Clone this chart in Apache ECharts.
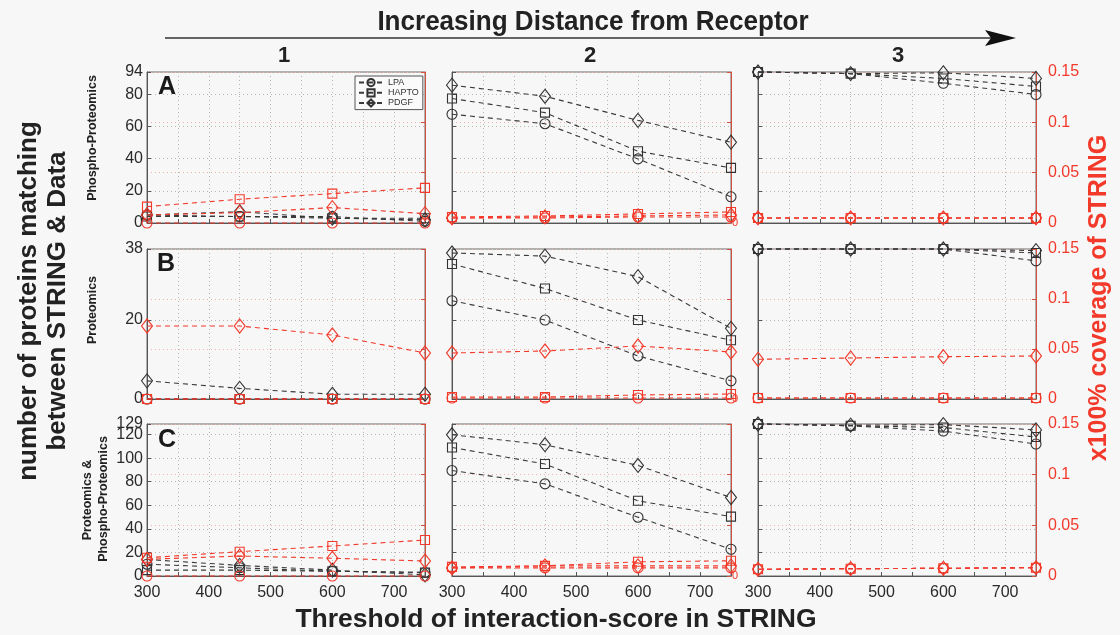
<!DOCTYPE html>
<html><head><meta charset="utf-8">
<script src="https://cdn.jsdelivr.net/npm/echarts@6/dist/echarts.min.js"></script>
<style>html,body{margin:0;padding:0;background:#f7f7f7;}#c{width:1120px;height:635px;}</style>
</head><body><div id="c"></div>
<script>
// ---------- data ----------
const thresholds = [300, 450, 600, 750];
const seriesNames = ['LPA', 'HAPTO', 'PDGF'];
const leftMax = [94, 38, 129];          // rows A, B, C
const leftTicksA = [0, 20, 40, 60, 80, 94];
const leftTicksB = [0, 20, 38];
const leftTicksC = [0, 20, 40, 60, 80, 100, 120, 129];
const xTickLabels = [300, 400, 500, 600, 700];
const rightTickLabels = [0, 0.05, 0.1, 0.15];

// number of proteins (left axis); order LPA, HAPTO, PDGF
const countA1 = [[5, 4, 4, 1], [4, 4, 3, 3], [5, 7, 3, 2]];
const countA2 = [[67.7, 61.8, 39.9, 16.3], [77.5, 68.7, 44.7, 34.3], [85.8, 78.9, 63.9, 50.3]];
const countA3 = [[94, 93, 87, 80], [94, 93, 90, 85], [94, 93, 93.5, 90]];
const countB1 = [[0, 0, 0, 0], [0, 0, 0, 0], [4.6, 2.7, 1.2, 1.2]];
const countB2 = [[24.9, 20, 10.9, 4.6], [34.2, 28, 20, 14.9], [37, 36.2, 31, 17.9]];
const countB3 = [[38, 38, 38, 35], [38, 38, 38, 37], [38, 38, 38, 37.6]];
const countC1 = [[10, 7, 4, 3], [5, 5, 4, 3], [14, 9, 5, 1]];
const countC2 = [[89.5, 78.2, 49.9, 22.7], [109.1, 95, 63.8, 50.4], [119.9, 111.4, 93.8, 66.6]];
const countC3 = [[129, 127.5, 123, 112], [129, 127.5, 126, 118], [129, 128, 128.5, 124]];

// coverage of STRING (right axis); order LPA, HAPTO, PDGF
const covA1 = [[0, 0, 0, 0], [0.0163, 0.0236, 0.0292, 0.0349], [0.008, 0.0103, 0.0153, 0.0093]];
const covA2 = [[0.005, 0.005, 0.006, 0.006], [0.006, 0.007, 0.009, 0.011], [0.005, 0.006, 0.007, 0.008]];
const covA3 = [[0.005, 0.005, 0.005, 0.005], [0.005, 0.005, 0.005, 0.005], [0.005, 0.005, 0.005, 0.005]];
const covB1 = [[0, 0, 0, 0], [0, 0, 0, 0], [0.073, 0.073, 0.064, 0.046]];
const covB2 = [[0.001, 0.001, 0.001, 0.001], [0.002, 0.002, 0.004, 0.005], [0.046, 0.048, 0.053, 0.047]];
const covB3 = [[0.001, 0.001, 0.001, 0.001], [0.001, 0.001, 0.001, 0.001], [0.0397, 0.041, 0.0423, 0.043]];
const covC1 = [[0, 0, 0, 0], [0.018, 0.024, 0.0296, 0.0355], [0.0165, 0.0197, 0.0175, 0.0148]];
const covC2 = [[0.008, 0.008, 0.008, 0.008], [0.009, 0.010, 0.014, 0.015], [0.008, 0.010, 0.010, 0.010]];
const covC3 = [[0.0066, 0.0072, 0.0076, 0.0082], [0.0066, 0.0072, 0.0076, 0.0082], [0.0066, 0.0072, 0.0076, 0.0082]];

const panelCounts = [[countA1, countA2, countA3], [countB1, countB2, countB3], [countC1, countC2, countC3]];
const panelCov = [[covA1, covA2, covA3], [covB1, covB2, covB3], [covC1, covC2, covC3]];
const leftTicks = [leftTicksA, leftTicksB, leftTicksC];

// ---------- layout ----------
const colL = [147, 452, 758];
const colW = [278, 279, 278];
const rowT = [72, 249, 424];
const rowH = [151, 150, 152];
const RED = '#f2392a';
const RED_AX = '#d2503e';
const BLK = '#333';
const FONT = 'Liberation Sans';
const symbols = ['circle', 'rect', 'diamond'];
const symSizes = [10, 9, [11, 14]];

const grid = [], xAxis = [], yAxis = [], series = [];
for (let r = 0; r < 3; r++) {
  for (let c = 0; c < 3; c++) {
    const gi = r * 3 + c;
    grid.push({left: colL[c], top: rowT[r], width: colW[c], height: rowH[r], show: true,
      borderColor: '#6a6a6a', borderWidth: 1, backgroundColor: 'transparent'});
    xAxis.push({type: 'value', gridIndex: gi, min: 300, max: 750, interval: 50,
      axisLine: {show: true, lineStyle: {color: '#555'}},
      axisTick: {show: true, inside: true, length: 4, lineStyle: {color: '#555'}},
      axisLabel: {show: r === 2, fontSize: 16, color: '#2a2a2a', fontFamily: FONT, margin: 9,
        formatter: v => xTickLabels.indexOf(v) >= 0 ? String(v) : ''},
      splitLine: {show: true, lineStyle: {type: [1, 3], color: '#b5b5b5'}}});
    yAxis.push({type: 'value', gridIndex: gi, position: 'left', min: 0, max: leftMax[r], interval: 20,
      axisLine: {show: true, lineStyle: {color: '#555'}},
      axisTick: {show: true, inside: true, length: 4, lineStyle: {color: '#555'}},
      axisLabel: {show: c === 0, fontSize: 16, color: '#2a2a2a', fontFamily: FONT, margin: 4,
        customValues: leftTicks[r].filter(v => v < leftMax[r])},
      splitLine: {show: true, lineStyle: {type: [1, 3], color: '#b5b5b5'}}});
    yAxis.push({type: 'value', gridIndex: gi, position: 'right', min: 0, max: 0.15, interval: 0.05,
      axisLine: {show: true, lineStyle: {color: RED_AX}},
      axisTick: {show: true, inside: true, length: 4, lineStyle: {color: RED_AX}},
      axisLabel: {show: c > 0, fontSize: c === 2 ? 16 : 11, color: RED, fontFamily: FONT,
        margin: c === 2 ? 12 : 1,
        formatter: v => c === 2 ? (rightTickLabels.indexOf(+v.toFixed(2)) >= 0 ? String(+v.toFixed(2)) : '') : (v === 0 ? '0' : '')},
      splitLine: {show: true, lineStyle: {type: [1, 3], color: '#f3b2a8'}}});
    for (let s = 0; s < 3; s++) {
      series.push({type: 'line', name: seriesNames[s], xAxisIndex: gi, yAxisIndex: gi * 2,
        data: thresholds.map((x, k) => [x, panelCounts[r][c][s][k]]),
        symbol: symbols[s], symbolSize: symSizes[s], clip: false, z: 2,
        lineStyle: {color: '#3a3a3a', width: 1.1, type: [5, 4]},
        itemStyle: {color: 'rgba(0,0,0,0)', borderColor: BLK, borderWidth: 1.1}});
    }
    for (let s = 0; s < 3; s++) {
      series.push({type: 'line', name: seriesNames[s] + ' coverage', xAxisIndex: gi, yAxisIndex: gi * 2 + 1,
        data: thresholds.map((x, k) => [x, panelCov[r][c][s][k]]),
        symbol: symbols[s], symbolSize: symSizes[s], clip: false, z: 3,
        lineStyle: {color: RED, width: 1.1, type: [5, 4]},
        itemStyle: {color: 'rgba(0,0,0,0)', borderColor: RED, borderWidth: 1.1}});
    }
  }
}
// extra label-only axes carrying the top (max) tick label of each row in column 1
for (let r = 0; r < 3; r++) {
  yAxis.push({type: 'value', gridIndex: r * 3, position: 'left', min: 0, max: leftMax[r],
    axisLine: {show: false}, axisTick: {show: false}, splitLine: {show: false},
    axisLabel: {show: true, fontSize: 16, color: '#2a2a2a', fontFamily: FONT, margin: 4,
      customValues: leftTicks[r].filter(v => v === leftMax[r])}});
}

const boldTxt = (x, y, text, size, color, rot, extra) => Object.assign({
  type: 'text', x: x, y: y, rotation: rot || 0, silent: true,
  style: {text: text, fontSize: size, fontWeight: 'bold', fill: color || '#222', fontFamily: FONT,
    align: 'center', verticalAlign: 'middle'}}, extra || {});

const graphic = [
  boldTxt(593, 22, 'Increasing Distance from Receptor', 28, '#222', 0, {scaleX: 0.93}),
  {type: 'line', silent: true, shape: {x1: 165, y1: 38, x2: 995, y2: 38}, style: {stroke: '#333', lineWidth: 1.5}},
  {type: 'polygon', silent: true, shape: {points: [[985, 30], [1016, 38], [985, 46], [991, 38]]}, style: {fill: '#111'}},
  boldTxt(284, 56, '1', 22), boldTxt(590, 56, '2', 22), boldTxt(898, 56, '3', 22),
  boldTxt(29, 301, 'number of proteins matching', 26, '#222', Math.PI / 2),
  boldTxt(58, 301, 'between STRING & Data', 26, '#222', Math.PI / 2),
  boldTxt(1099, 298, 'x100% coverage of STRING', 25, RED, Math.PI / 2),
  boldTxt(556, 620, 'Threshold of interaction-score in STRING', 26.5, '#222'),
  boldTxt(93, 138, 'Phospho-Proteomics', 12.5, '#222', Math.PI / 2),
  boldTxt(93, 310, 'Proteomics', 12.5, '#222', Math.PI / 2),
  boldTxt(88, 500, 'Proteomics &', 12.5, '#222', Math.PI / 2),
  boldTxt(104, 499, 'Phospho-Proteomics', 12.5, '#222', Math.PI / 2),
  boldTxt(167, 87, 'A', 25, '#1a1a1a'),
  boldTxt(166, 264, 'B', 25, '#1a1a1a'),
  boldTxt(167, 440, 'C', 25, '#1a1a1a')
];

const chart = echarts.init(document.getElementById('c'), null, {renderer: 'canvas'});
chart.setOption({
  backgroundColor: '#f7f7f7',
  animation: false,
  grid: grid, xAxis: xAxis, yAxis: yAxis, series: series,
  legend: {data: seriesNames, orient: 'vertical', left: 355, top: 76, itemGap: 1, itemWidth: 24, itemHeight: 9,
    padding: [2, 4, 2, 3], borderColor: '#555', borderWidth: 1, backgroundColor: '#fafafa',
    textStyle: {fontSize: 9, color: '#333', fontFamily: FONT}, selectedMode: false},
  graphic: graphic
});
</script>
</body></html>
